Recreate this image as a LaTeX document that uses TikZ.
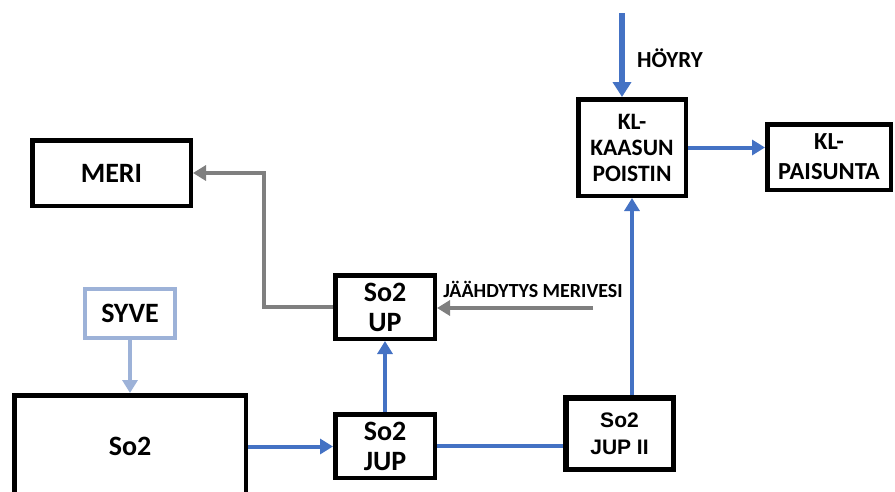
\documentclass[tikz,border=0pt]{standalone}
\usepackage{fontspec}
\setmainfont{Carlito}
\newfontfamily\arialfont{Liberation Sans}
\usetikzlibrary{arrows.meta}
\definecolor{flowblue}{HTML}{4472C4}
\definecolor{flowgray}{HTML}{7F7F7F}
\definecolor{feedblue}{HTML}{9DB2D8}
\newcommand{\fsz}[2]{\fontsize{#1}{#2}\selectfont}
\begin{document}
\begin{tikzpicture}[x=1pt,y=-1pt,
  unitbox/.style={draw=black, line width=4.5pt, fill=white, align=center,
    inner sep=0pt, font=\bfseries\fsz{28}{30}},
  flow/.style={draw=flowblue, line width=4pt,
    -{Triangle[length=13pt,width=15pt]}},
  flowline/.style={draw=flowblue, line width=3.5pt},
  grayflow/.style={draw=flowgray, line width=4pt,
    -{Triangle[length=13pt,width=15pt]}},
  feedflow/.style={draw=feedblue, line width=4pt,
    -{Triangle[length=13pt,width=15pt]}},
  tag/.style={font=\bfseries, inner sep=0pt}]
\useasboundingbox (0,0) rectangle (895,491);

% process units
\node[unitbox, minimum width=158.5pt, minimum height=65.5pt] (meri) at (111.5,173) {MERI};
\node[unitbox, draw=feedblue, line width=4pt, minimum width=90pt, minimum height=49pt] (syve) at (130,313.5) {SYVE};
\node[unitbox, minimum width=231.5pt, minimum height=102.5pt] (so2) at (130,446.5) {So2};
\node[unitbox, minimum width=99.5pt, minimum height=63.5pt] (jup) at (385,446) {So2\\JUP};
\node[unitbox, minimum width=99.5pt, minimum height=63.5pt] (up) at (385,307) {So2\\UP};
\node[unitbox, line width=5.5pt, minimum width=107.5pt, minimum height=71.5pt,
  font=\arialfont\bfseries\fsz{21}{27}] (jup2) at (619.5,433.5) {So2\\JUP II};
\node[unitbox, minimum width=107.5pt, minimum height=96.5pt,
  font=\bfseries\fsz{23.5}{26}] (kl) at (632,147.5) {KL-\\KAASUN\\POISTIN};
\node[unitbox, minimum width=123.5pt, minimum height=65.5pt,
  font=\bfseries\fsz{24.5}{30}] (pais) at (829,157) {KL-\\PAISUNTA};

% free ends of the incoming streams
\coordinate (steam) at (622,13);
\coordinate (cw) at (593,308);

% labels
\node[tag, font=\bfseries\fsz{23}{24}] (steamlbl) at (670,58) {HÖYRY};
\node[tag, font=\bfseries\fsz{20}{22}] (cwlbl) at (533,289) {JÄÄHDYTYS MERIVESI};

% streams
\draw[flow, line width=5.5pt, -{Triangle[length=15pt,width=18pt]}] (steam) -- (steam |- kl.north);
\draw[flow] (kl.east) -- (kl.east -| pais.west);
\draw[flow] (jup2.north -| kl.south) -- (kl.south);
\draw[flow] (so2.east) -- (so2.east -| jup.west);
\draw[flowline] (jup.east) -- (jup.east -| jup2.west);
\draw[flow] (jup.north) -- (up.south);
\draw[grayflow] (up.west) -- ++(-69,0) |- (meri.east);
\draw[grayflow] (cw) -- (cw -| up.east);
\draw[feedflow] (syve.south) -- (so2.north);
\end{tikzpicture}
\end{document}
